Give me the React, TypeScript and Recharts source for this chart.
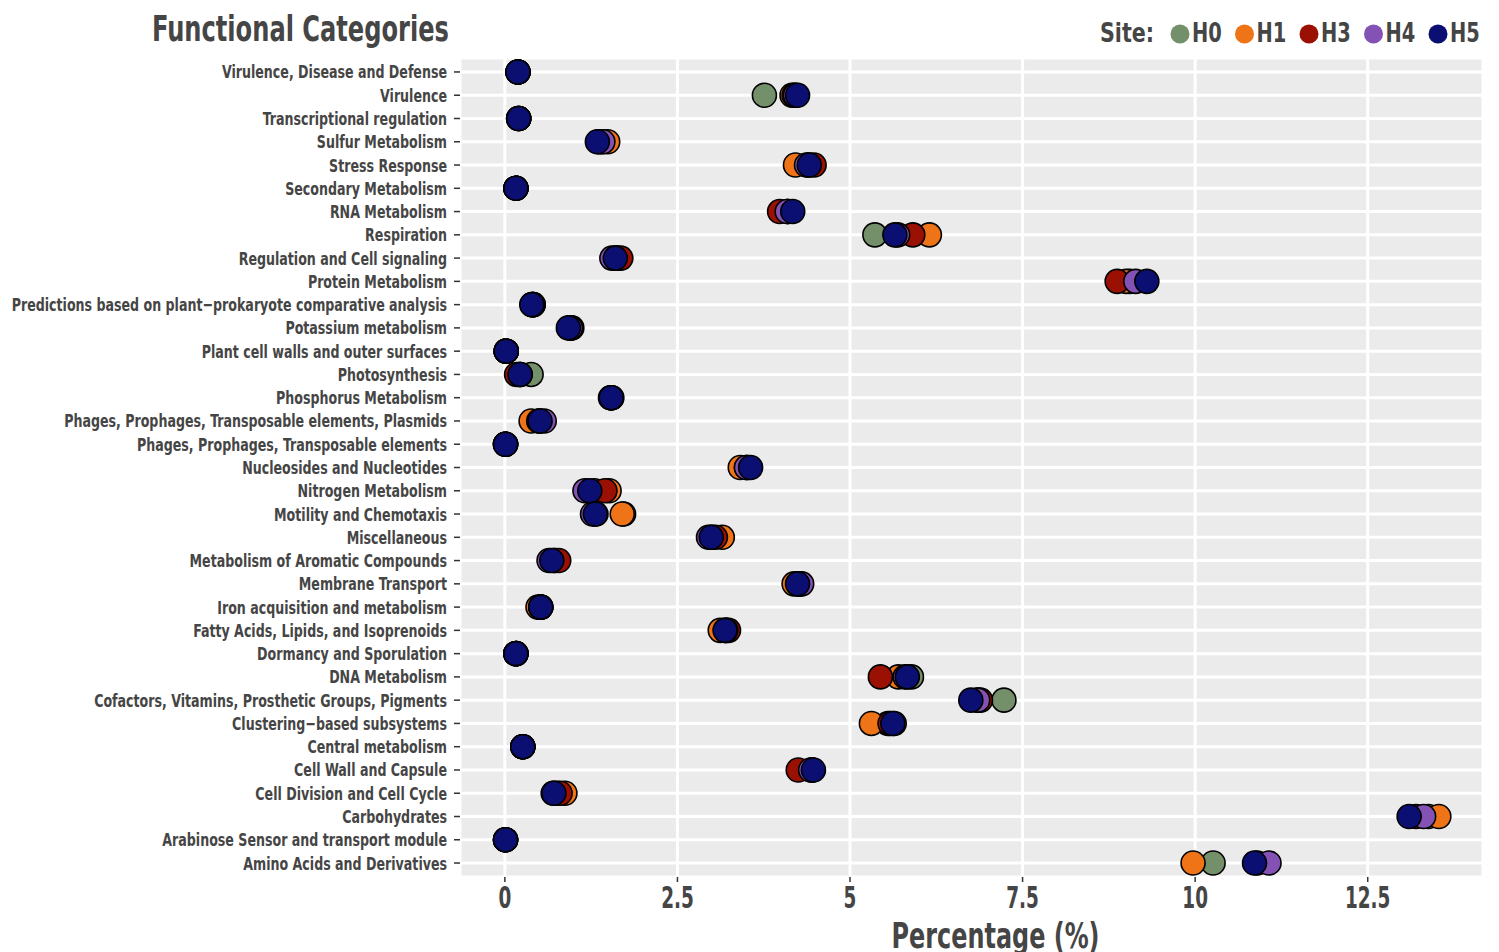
import { ScatterChart, Scatter, XAxis, YAxis, CartesianGrid, Legend } from 'recharts';

const FONT = '"DejaVu Sans Condensed", "DejaVu Sans", sans-serif';
const INK = '#454545';

const categories = [
  'Virulence, Disease and Defense',
  'Virulence',
  'Transcriptional regulation',
  'Sulfur Metabolism',
  'Stress Response',
  'Secondary Metabolism',
  'RNA Metabolism',
  'Respiration',
  'Regulation and Cell signaling',
  'Protein Metabolism',
  'Predictions based on plant\u2212prokaryote comparative analysis',
  'Potassium metabolism',
  'Plant cell walls and outer surfaces',
  'Photosynthesis',
  'Phosphorus Metabolism',
  'Phages, Prophages, Transposable elements, Plasmids',
  'Phages, Prophages, Transposable elements',
  'Nucleosides and Nucleotides',
  'Nitrogen Metabolism',
  'Motility and Chemotaxis',
  'Miscellaneous',
  'Metabolism of Aromatic Compounds',
  'Membrane Transport',
  'Iron acquisition and metabolism',
  'Fatty Acids, Lipids, and Isoprenoids',
  'Dormancy and Sporulation',
  'DNA Metabolism',
  'Cofactors, Vitamins, Prosthetic Groups, Pigments',
  'Clustering\u2212based subsystems',
  'Central metabolism',
  'Cell Wall and Capsule',
  'Cell Division and Cell Cycle',
  'Carbohydrates',
  'Arabinose Sensor and transport module',
  'Amino Acids and Derivatives',
];

const h0 = [0.19, 3.76, 0.2, 1.36, 4.4, 0.16, 4.1, 5.36, 1.62, 9.05, 0.4, 0.95, 0.02, 0.38, 1.54, 0.5, 0.01, 3.52, 1.3, 1.72, 3.0, 0.72, 4.27, 0.52, 3.2, 0.16, 5.89, 7.23, 5.55, 0.26, 4.45, 0.75, 13.38, 0.01, 10.26];
const h1 = [0.19, 4.16, 0.2, 1.49, 4.21, 0.16, 4.1, 6.15, 1.62, 9.0, 0.41, 0.97, 0.02, 0.22, 1.54, 0.38, 0.01, 3.41, 1.51, 1.7, 3.15, 0.72, 4.19, 0.48, 3.12, 0.16, 5.7, 6.85, 5.31, 0.26, 4.45, 0.87, 13.53, 0.01, 9.97];
const h3 = [0.19, 4.19, 0.2, 1.4, 4.48, 0.16, 3.98, 5.91, 1.68, 8.87, 0.41, 0.95, 0.02, 0.17, 1.55, 0.49, 0.01, 3.5, 1.45, 1.32, 3.05, 0.78, 4.27, 0.52, 3.24, 0.16, 5.44, 6.89, 5.58, 0.26, 4.25, 0.8, 13.2, 0.01, 10.9];
const h4 = [0.19, 4.21, 0.2, 1.42, 4.37, 0.16, 4.09, 5.69, 1.55, 9.14, 0.4, 0.95, 0.02, 0.22, 1.53, 0.57, 0.01, 3.5, 1.16, 1.27, 2.95, 0.64, 4.3, 0.52, 3.2, 0.16, 5.8, 6.85, 5.64, 0.26, 4.43, 0.7, 13.31, 0.01, 11.07];
const h5 = [0.19, 4.24, 0.2, 1.34, 4.41, 0.16, 4.17, 5.65, 1.6, 9.3, 0.39, 0.92, 0.02, 0.22, 1.54, 0.51, 0.01, 3.56, 1.23, 1.31, 2.99, 0.68, 4.24, 0.52, 3.19, 0.16, 5.83, 6.75, 5.62, 0.26, 4.47, 0.71, 13.1, 0.01, 10.86];

const sites = [
  { name: 'H0', values: h0, color: '#74906B' },
  { name: 'H1', values: h1, color: '#EF7317' },
  { name: 'H3', values: h3, color: '#9A1003' },
  { name: 'H4', values: h4, color: '#8452B5' },
  { name: 'H5', values: h5, color: '#0C0F72' },
];

const xTicks = [0, 2.5, 5, 7.5, 10, 12.5];
const yTicks = categories.map((_, i) => i);

const toPoints = (values: number[]) => values.map((v, i) => ({ x: v, y: i }));

// condensed bold text: squeeze horizontally around the anchor point
const Narrow = ({ x, y, size, squeeze, anchor = 'start', children }: any) => (
  <text
    transform={`translate(${x},${y}) scale(${squeeze},1)`}
    textAnchor={anchor}
    fill={INK}
    fontFamily={FONT}
    fontWeight="bold"
    fontSize={size}
  >
    {children}
  </text>
);

const Dot = (props: any) => {
  const { cx, cy, fill } = props;
  if (cx == null || cy == null) return null;
  return <circle cx={cx} cy={cy} r={12} fill={fill} stroke="#000" strokeWidth={1.6} />;
};

const YTick = ({ x, y, payload }: any) => (
  <Narrow x={x - 1} y={y + 6.5} size={18} squeeze={0.78} anchor="end">
    {categories[payload.value]}
  </Narrow>
);

const XTick = ({ x, y, payload }: any) => (
  <Narrow x={x} y={y + 24} size={31} squeeze={0.66} anchor="middle">
    {payload.value}
  </Narrow>
);

const XTitle = ({ viewBox }: any) => (
  <Narrow x={viewBox.x + viewBox.width / 2 + 24} y={viewBox.y + viewBox.height - 4} size={35} squeeze={0.76} anchor="middle">
    Percentage (%)
  </Narrow>
);

const SiteLegend = () => (
  <svg width={400} height={50}>
    <Narrow x={10} y={32} size={27} squeeze={0.85}>Site:</Narrow>
    {sites.map((s, i) => (
      <g key={s.name}>
        <circle cx={90 + i * 64.5} cy={24} r={9.5} fill={s.color} />
        <Narrow x={102 + i * 64.5} y={32} size={27} squeeze={0.8}>{s.name}</Narrow>
      </g>
    ))}
  </svg>
);

export default function App() {
  return (
    <div style={{ position: 'absolute', left: 0, top: 0, width: 1499, height: 952, background: '#fff' }}>
      <div
        style={{
          position: 'absolute',
          left: 152,
          top: 7,
          fontFamily: FONT,
          fontWeight: 'bold',
          fontSize: 36,
          color: INK,
          lineHeight: '44px',
          whiteSpace: 'nowrap',
          transform: 'scaleX(0.745)',
          transformOrigin: '0 0',
        }}
      >
        Functional Categories
      </div>
      <ScatterChart width={1499} height={952} margin={{ top: 58, right: 16, bottom: 0, left: 0 }}>
        <CartesianGrid fill="#EBEBEB" stroke="#FFFFFF" strokeWidth={3} />
        <XAxis
          type="number"
          dataKey="x"
          domain={[-0.65, 14.17]}
          ticks={xTicks}
          allowDataOverflow
          axisLine={false}
          tickLine={{ stroke: '#333', strokeWidth: 1.5 }}
          tickSize={5}
          tickMargin={2}
          height={75}
          tick={<XTick />}
          label={<XTitle />}
        />
        <YAxis
          type="number"
          dataKey="y"
          domain={[-0.6, 34.6]}
          ticks={yTicks}
          interval={0}
          reversed
          allowDataOverflow
          axisLine={false}
          tickLine={{ stroke: '#333', strokeWidth: 1.5 }}
          tickSize={6}
          tickMargin={6}
          width={460}
          tick={<YTick />}
        />
        <Legend
          layout="vertical"
          align="center"
          verticalAlign="middle"
          content={<SiteLegend />}
          wrapperStyle={{ left: 1090, top: 10, width: 400, height: 50 }}
        />
        {sites.map((s) => (
          <Scatter
            key={s.name}
            name={s.name}
            data={toPoints(s.values)}
            fill={s.color}
            shape={<Dot />}
            isAnimationActive={false}
          />
        ))}
      </ScatterChart>
    </div>
  );
}
